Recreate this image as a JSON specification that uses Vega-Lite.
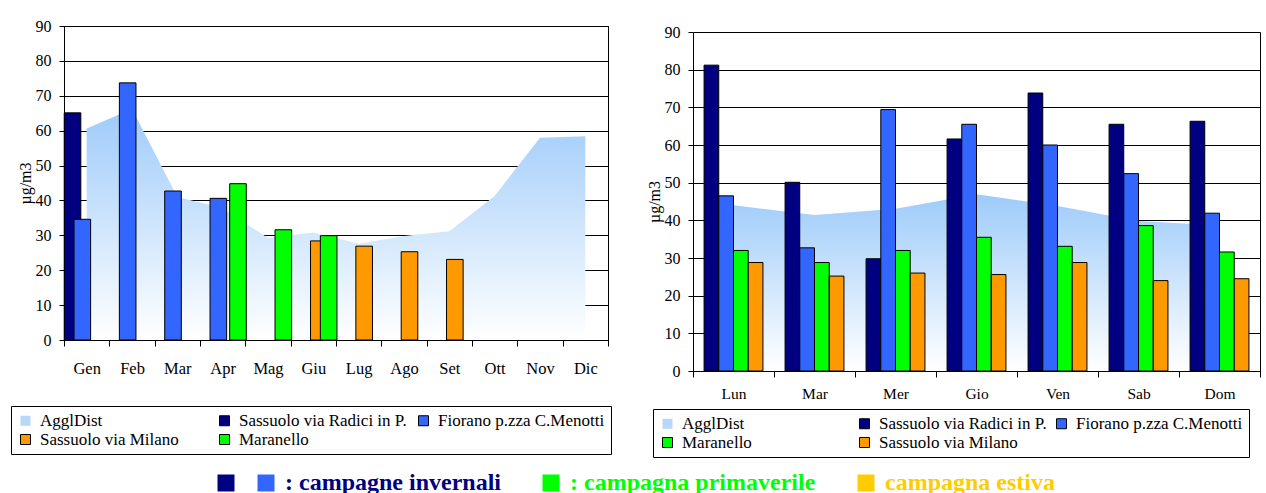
{
  "$schema": "https://vega.github.io/schema/vega-lite/v6.json",
  "padding": {"left": 10, "top": 17, "right": 0, "bottom": 0},
  "background": "white",
  "config": {
    "font": "Liberation Serif",
    "view": {"stroke": "black", "strokeWidth": 1},
    "axis": {"labelFont": "Liberation Serif", "titleFont": "Liberation Serif", "labelColor": "black", "titleColor": "black", "domainColor": "black", "tickColor": "black", "gridColor": "black", "gridOpacity": 1, "titleFontWeight": "normal"},
    "legend": {"labelFont": "Liberation Serif", "labelColor": "black"}
  },
  "datasets": {
    "areaL": [
      {"m": "Gen", "v": 60.6}, {"m": "Feb", "v": 66.2}, {"m": "Mar", "v": 41.0}, {"m": "Apr", "v": 37.8},
      {"m": "Mag", "v": 29.2}, {"m": "Giu", "v": 30.8}, {"m": "Lug", "v": 27.6}, {"m": "Ago", "v": 29.8},
      {"m": "Set", "v": 31.2}, {"m": "Ott", "v": 41.3}, {"m": "Nov", "v": 58.0}, {"m": "Dic", "v": 58.4}
    ],
    "barsL": [
      {"m": "Gen", "s": "Sassuolo via Radici in P.", "v": 65.1},
      {"m": "Gen", "s": "Fiorano p.zza C.Menotti", "v": 34.6},
      {"m": "Feb", "s": "Fiorano p.zza C.Menotti", "v": 73.7},
      {"m": "Mar", "s": "Fiorano p.zza C.Menotti", "v": 42.7},
      {"m": "Apr", "s": "Fiorano p.zza C.Menotti", "v": 40.6},
      {"m": "Giu", "s": "Sassuolo via Milano", "v": 28.4},
      {"m": "Lug", "s": "Sassuolo via Milano", "v": 26.9},
      {"m": "Ago", "s": "Sassuolo via Milano", "v": 25.3},
      {"m": "Set", "s": "Sassuolo via Milano", "v": 23.1},
      {"m": "Apr", "s": "Maranello", "v": 44.8},
      {"m": "Mag", "s": "Maranello", "v": 31.6},
      {"m": "Giu", "s": "Maranello", "v": 29.9}
    ],
    "areaR": [
      {"g": "Lun", "v": 44.0}, {"g": "Mar", "v": 41.4}, {"g": "Mer", "v": 43.1}, {"g": "Gio", "v": 46.9},
      {"g": "Ven", "v": 43.8}, {"g": "Sab", "v": 39.8}, {"g": "Dom", "v": 38.6}
    ],
    "barsR": [
      {"g": "Lun", "s": "Sassuolo via Radici in P.", "v": 81.2},
      {"g": "Mar", "s": "Sassuolo via Radici in P.", "v": 50.1},
      {"g": "Mer", "s": "Sassuolo via Radici in P.", "v": 29.8},
      {"g": "Gio", "s": "Sassuolo via Radici in P.", "v": 61.6},
      {"g": "Ven", "s": "Sassuolo via Radici in P.", "v": 73.8},
      {"g": "Sab", "s": "Sassuolo via Radici in P.", "v": 65.5},
      {"g": "Dom", "s": "Sassuolo via Radici in P.", "v": 66.3},
      {"g": "Lun", "s": "Fiorano p.zza C.Menotti", "v": 46.5},
      {"g": "Mar", "s": "Fiorano p.zza C.Menotti", "v": 32.7},
      {"g": "Mer", "s": "Fiorano p.zza C.Menotti", "v": 69.4},
      {"g": "Gio", "s": "Fiorano p.zza C.Menotti", "v": 65.5},
      {"g": "Ven", "s": "Fiorano p.zza C.Menotti", "v": 60.0},
      {"g": "Sab", "s": "Fiorano p.zza C.Menotti", "v": 52.4},
      {"g": "Dom", "s": "Fiorano p.zza C.Menotti", "v": 41.9},
      {"g": "Lun", "s": "Maranello", "v": 32.0},
      {"g": "Mar", "s": "Maranello", "v": 28.8},
      {"g": "Mer", "s": "Maranello", "v": 32.0},
      {"g": "Gio", "s": "Maranello", "v": 35.5},
      {"g": "Ven", "s": "Maranello", "v": 33.1},
      {"g": "Sab", "s": "Maranello", "v": 38.6},
      {"g": "Dom", "s": "Maranello", "v": 31.6},
      {"g": "Lun", "s": "Sassuolo via Milano", "v": 28.8},
      {"g": "Mar", "s": "Sassuolo via Milano", "v": 25.2},
      {"g": "Mer", "s": "Sassuolo via Milano", "v": 26.0},
      {"g": "Gio", "s": "Sassuolo via Milano", "v": 25.6},
      {"g": "Ven", "s": "Sassuolo via Milano", "v": 28.8},
      {"g": "Sab", "s": "Sassuolo via Milano", "v": 24.0},
      {"g": "Dom", "s": "Sassuolo via Milano", "v": 24.5}
    ],
    "campagne": [
      {"c": ": campagne invernali", "k": "Sassuolo via Radici in P."},
      {"c": ": campagna primaverile", "k": "Sassuolo via Radici in P."},
      {"c": "campagna estiva", "k": "Sassuolo via Radici in P."}
    ]
  },
  "vconcat": [
    {
      "hconcat": [
        {
          "width": 544,
          "height": 314,
          "encoding": {
            "x": {"field": "m", "type": "nominal", "sort": null,
              "scale": {"domain": ["Gen", "Feb", "Mar", "Apr", "Mag", "Giu", "Lug", "Ago", "Set", "Ott", "Nov", "Dic"], "paddingInner": 0, "paddingOuter": 0},
              "axis": {"title": null, "labelAngle": 0, "tickBand": "extent", "tickSize": 6, "labelPadding": 14, "labelFont": "Liberation Serif", "labelFontSize": 16.5, "grid": false}},
            "y": {"field": "v", "type": "quantitative", "scale": {"domain": [0, 90], "nice": false},
              "axis": {"title": "µg/m3", "values": [0, 10, 20, 30, 40, 50, 60, 70, 80, 90], "labelOverlap": false, "tickSize": 5, "labelPadding": 8, "labelFont": "Liberation Serif", "labelFontSize": 16, "titleFont": "Liberation Serif", "titleFontSize": 16, "titlePadding": 2, "grid": true}}
          },
          "layer": [
            {
              "data": {"name": "areaL"},
              "mark": {"type": "area", "color": {"gradient": "linear", "x1": 0, "y1": 0, "x2": 0, "y2": 1, "stops": [{"offset": 0, "color": "#9ECBFA"}, {"offset": 1, "color": "#FFFFFF"}]}}
            },
            {
              "data": {"name": "barsL"},
              "mark": {"type": "bar", "width": 16.6, "stroke": "black", "strokeWidth": 1},
              "encoding": {
                "xOffset": {"field": "s", "type": "nominal",
                  "scale": {"domain": ["Sassuolo via Radici in P.", "Fiorano p.zza C.Menotti", "Sassuolo via Milano", "Maranello"], "range": [3.6, 42.9], "paddingInner": 0, "paddingOuter": 0}},
                "color": {"field": "s", "type": "nominal",
                  "scale": {"domain": ["AgglDist", "Sassuolo via Radici in P.", "Fiorano p.zza C.Menotti", "Sassuolo via Milano", "Maranello"], "range": ["#B5D8FC", "#000080", "#3366FF", "#FF9900", "#00FF00"]},
                  "legend": {"title": null, "orient": "none", "legendX": -53, "legendY": 380, "direction": "horizontal", "columns": 3, "gridAlign": "all", "columnPadding": 8, "rowPadding": 1, "padding": 6, "strokeColor": "black", "symbolType": "square", "symbolSize": 100, "symbolStrokeColor": "black", "symbolStrokeWidth": 1, "symbolOpacity": 1, "labelFont": "Liberation Serif", "labelFontSize": 17, "labelOffset": 6, "labelLimit": 300,
                    "encode": {"symbols": {"update": {"strokeWidth": {"signal": "datum.value === 'AgglDist' ? 0 : 1"}}}}}}
              }
            }
          ]
        },
        {
          "width": 567,
          "height": 345,
          "view": {"stroke": null},
          "encoding": {
            "x": {"field": "g", "type": "nominal", "sort": null,
              "scale": {"domain": ["Lun", "Mar", "Mer", "Gio", "Ven", "Sab", "Dom"], "paddingInner": 0, "paddingOuter": 0},
              "axis": {"title": null, "labelAngle": 0, "tickBand": "extent", "tickSize": 6, "labelPadding": 9, "labelFont": "Liberation Serif", "labelFontSize": 15.5, "grid": false}},
            "y": {"field": "v", "type": "quantitative", "scale": {"domain": [0, 90], "nice": false, "range": [345, 6]},
              "axis": {"title": "µg/m3", "values": [0, 10, 20, 30, 40, 50, 60, 70, 80, 90], "labelOverlap": false, "tickSize": 5, "labelPadding": 8, "labelFont": "Liberation Serif", "labelFontSize": 16, "titleFont": "Liberation Serif", "titleFontSize": 16, "titlePadding": 2, "grid": true}}
          },
          "layer": [
            {
              "data": {"name": "areaR"},
              "mark": {"type": "area", "color": {"gradient": "linear", "x1": 0, "y1": 0, "x2": 0, "y2": 1, "stops": [{"offset": 0, "color": "#9ECBFA"}, {"offset": 1, "color": "#FFFFFF"}]}}
            },
            {
              "data": {"name": "barsR"},
              "mark": {"type": "bar", "width": 14.7, "stroke": "black", "strokeWidth": 1},
              "encoding": {
                "y": {"field": "v", "type": "quantitative",
                  "axis": {"orient": "right", "title": null, "labels": false, "ticks": false, "grid": false, "domain": true}},
                "xOffset": {"field": "s", "type": "nominal",
                  "scale": {"domain": ["Sassuolo via Radici in P.", "Fiorano p.zza C.Menotti", "Maranello", "Sassuolo via Milano"], "range": [11.05, 69.95], "paddingInner": 0, "paddingOuter": 0}},
                "color": {"field": "s", "type": "nominal",
                  "scale": {"domain": ["AgglDist", "Sassuolo via Radici in P.", "Fiorano p.zza C.Menotti", "Maranello", "Sassuolo via Milano"], "range": ["#B5D8FC", "#000080", "#3366FF", "#00FF00", "#FF9900"]},
                  "legend": {"title": null, "orient": "none", "legendX": -40, "legendY": 383, "direction": "horizontal", "columns": 3, "gridAlign": "all", "columnPadding": 6, "rowPadding": 1, "padding": 6, "strokeColor": "black", "symbolType": "square", "symbolSize": 100, "symbolStrokeColor": "black", "symbolStrokeWidth": 1, "symbolOpacity": 1, "labelFont": "Liberation Serif", "labelFontSize": 17, "labelOffset": 6, "labelLimit": 300,
                    "encode": {"symbols": {"update": {"strokeWidth": {"signal": "datum.value === 'AgglDist' ? 0 : 1"}}}}}}
              }
            }
          ],
          "resolve": {"axis": {"y": "independent"}}
        }
      ],
      "spacing": 34,
      "resolve": {"scale": {"color": "independent", "x": "independent", "y": "independent", "xOffset": "independent"}}
    },
    {
      "width": 1,
      "height": 1,
      "view": {"stroke": null},
      "data": {"name": "campagne"},
      "mark": {"type": "point", "filled": true, "opacity": 0},
      "encoding": {
        "color": {"field": "c", "type": "nominal",
          "scale": {"domain": [": campagne invernali", ": campagna primaverile", "campagna estiva"], "range": ["#3366FF", "#00FF00", "#FFCC00"]},
          "legend": {"title": null, "orient": "none", "legendX": 190, "legendY": 0, "direction": "horizontal", "symbolType": "square", "symbolSize": 289, "symbolStrokeWidth": 0, "symbolOpacity": 1, "labelFont": "Liberation Serif", "labelFontSize": 24, "labelFontWeight": "bold", "labelOffset": 7, "columnPadding": 38, "padding": 0, "labelLimit": 400,
            "encode": {"labels": {"update": {"fill": {"signal": "datum.value == ': campagna primaverile' ? '#00FF00' : datum.value == 'campagna estiva' ? '#FFCC00' : '#000080'"}}}}}},
        "shape": {"field": "k", "type": "nominal",
          "scale": {"domain": ["Sassuolo via Radici in P."], "range": ["square"]},
          "legend": {"title": null, "orient": "none", "legendX": 150, "legendY": 0, "symbolType": "square", "symbolSize": 289, "symbolFillColor": "#000080", "symbolStrokeWidth": 0, "symbolOpacity": 1, "labelExpr": "''", "padding": 0, "labelFontSize": 24,
            "encode": {"symbols": {"update": {"fill": {"value": "#000080"}}}}}}
      }
    }
  ],
  "spacing": 10,
  "resolve": {"scale": {"color": "independent", "shape": "independent"}, "legend": {"color": "independent", "shape": "independent"}}
}
